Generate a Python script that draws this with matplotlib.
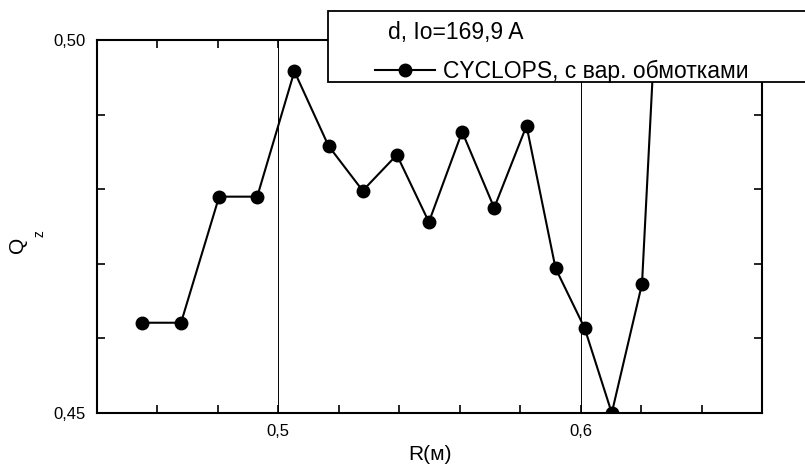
import numpy as np
import matplotlib
matplotlib.use('Agg')
import matplotlib.pyplot as plt
from matplotlib.patches import Rectangle
from matplotlib.ticker import MultipleLocator, FixedLocator, FuncFormatter

plt.rcParams['font.family'] = ['Liberation Sans', 'DejaVu Sans']

# данные
r_m = [0.4548, 0.4678, 0.4804, 0.4930, 0.5053, 0.5166, 0.5279, 0.5392,
       0.5498, 0.5608, 0.5714, 0.5821, 0.5917, 0.6013, 0.6103, 0.6203, 0.6310]
q_z = [0.4621, 0.4621, 0.4790, 0.4790, 0.4958, 0.4858, 0.4798, 0.4846,
       0.4756, 0.4877, 0.4775, 0.4885, 0.4694, 0.4614, 0.4500, 0.4673, 0.5520]
series_label = 'CYCLOPS, с вар. обмотками'
legend_title = 'd, Io=169,9 A'
x_labels = [0.5, 0.6]
y_labels = [0.45, 0.50]

fig = plt.figure(figsize=(8.05, 4.71), dpi=100)
W, H = 805.0, 471.0
ax = fig.add_axes([97 / W, 1 - 413 / H, (762 - 97) / W, (413 - 40) / H])

ax.plot(r_m, q_z, color='black', lw=1.5, marker='o', ms=9, label=series_label, zorder=3)

ax.set_xlim(0.44, 0.66)
ax.set_ylim(0.45, 0.50)

# тонкие вертикальные линии сетки
for xv in x_labels:
    ax.axvline(xv, color='black', lw=0.7, zorder=1)

ax.xaxis.set_major_locator(FixedLocator(x_labels))
ax.xaxis.set_minor_locator(MultipleLocator(0.02))
ax.yaxis.set_major_locator(FixedLocator(y_labels))
ax.yaxis.set_minor_locator(MultipleLocator(0.01))
ax.xaxis.set_major_formatter(FuncFormatter(lambda v, p: ('%.1f' % v).replace('.', ',')))
ax.yaxis.set_major_formatter(FuncFormatter(lambda v, p: ('%.2f' % v).replace('.', ',')))
ax.tick_params(which='both', direction='in', top=True, right=True, width=1.2, labelsize=12)
ax.tick_params(which='major', length=6, pad=8)
ax.tick_params(which='minor', length=6)
for s in ax.spines.values():
    s.set_linewidth(1.5)

ax.set_xlabel('R(м)', fontsize=15, labelpad=4)
# подпись оси Y: Q и индекс z отдельно, как в оригинале
fig.text(17 / W, 1 - 245 / H, 'Q', fontsize=15, rotation=90, ha='center', va='center')
fig.text(40 / W, 1 - 234 / H, 'z', fontsize=10, rotation=90, ha='center', va='center')

# рамка легенды, выходящая за правый край
box = Rectangle((328 / W, 1 - 82 / H), 500 / W, 71 / H, transform=fig.transFigure,
                facecolor='white', edgecolor='black', lw=1.3, clip_on=False, zorder=4)
ax.add_artist(box)
fig.text(388 / W, 1 - 33 / H, legend_title, fontsize=16.5, va='center', ha='left', zorder=6)
leg = ax.legend(loc='center left', bbox_to_anchor=(375 / W, 1 - 71 / H),
                bbox_transform=fig.transFigure, frameon=False, fontsize=16.5,
                handlelength=2.62, handletextpad=0.35, borderpad=0, borderaxespad=0)
leg.set_zorder(6)

fig.savefig('out.png', dpi=100)
